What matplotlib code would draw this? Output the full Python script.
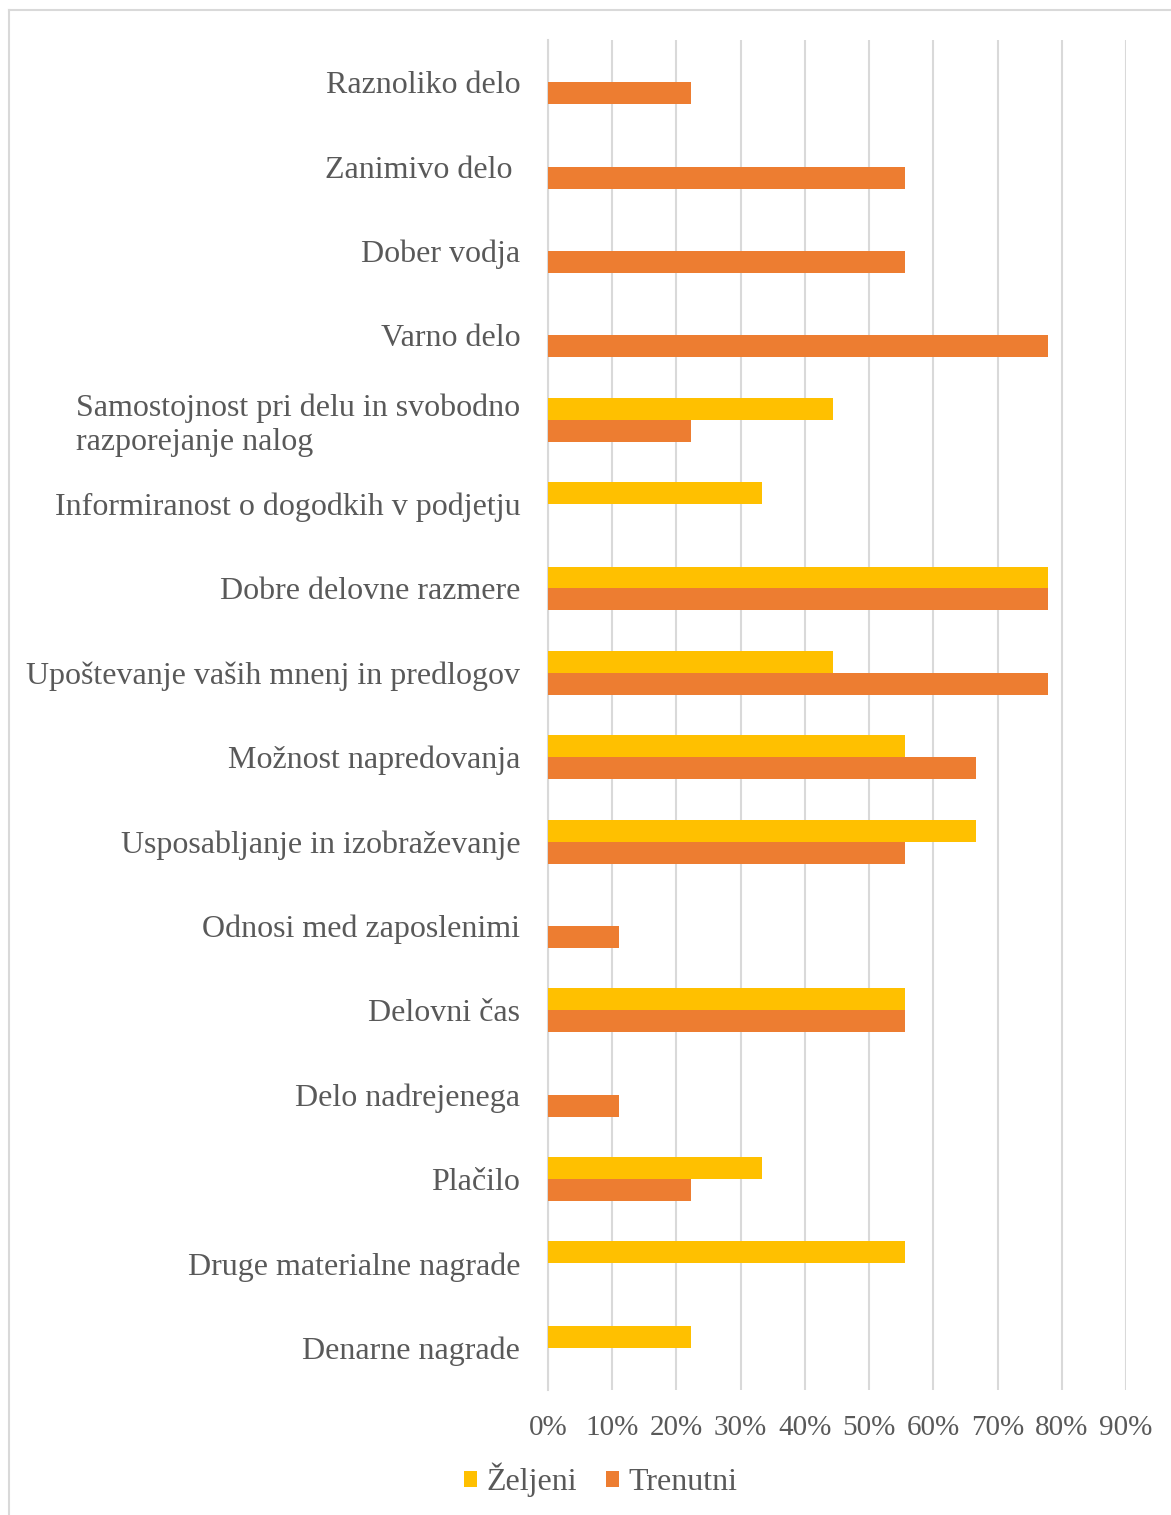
import matplotlib
matplotlib.use("Agg")
import matplotlib.pyplot as plt
from matplotlib.lines import Line2D
from matplotlib.ticker import FuncFormatter, MultipleLocator
import numpy as np

categories = [
    "Raznoliko delo",
    "Zanimivo delo ",
    "Dober vodja",
    "Varno delo",
    "Samostojnost pri delu in svobodno\nrazporejanje nalog",
    "Informiranost o dogodkih v podjetju",
    "Dobre delovne razmere",
    "Upoštevanje vaših mnenj in predlogov",
    "Možnost napredovanja",
    "Usposabljanje in izobraževanje",
    "Odnosi med zaposlenimi",
    "Delovni čas",
    "Delo nadrejenega",
    "Plačilo",
    "Druge materialne nagrade",
    "Denarne nagrade",
]
zeljeni = [0, 0, 0, 0, 44.4, 33.3, 77.8, 44.4, 55.6, 66.7, 0, 55.6, 0, 33.3, 55.6, 22.2]
trenutni = [22.2, 55.6, 55.6, 77.8, 22.2, 0, 77.8, 77.8, 66.7, 55.6, 11.1, 55.6, 11.1, 22.2, 0, 0]
series_names = ["Željeni", "Trenutni"]
colors = ["#FFC000", "#ED7D31"]
text_color = "#595959"
grid_color = "#D9D9D9"

plt.rcParams["font.family"] = ["Liberation Serif", "DejaVu Serif"]

W, H = 1171, 1515
fig = plt.figure(figsize=(W / 100, H / 100), dpi=100)
ax = fig.add_axes([548 / W, 1 - 1390 / H, (1126 - 548) / W, (1390 - 40) / H])

y = np.arange(len(categories))
bh = 0.26
ax.barh(y - bh / 2, zeljeni, height=bh, color=colors[0], label=series_names[0], zorder=3)
ax.barh(y + bh / 2, trenutni, height=bh, color=colors[1], label=series_names[1], zorder=3)

ax.set_xlim(0, 90)
ax.set_ylim(len(categories) - 0.5, -0.5)
ax.xaxis.set_major_locator(MultipleLocator(10))
ax.xaxis.set_major_formatter(FuncFormatter(lambda v, p: f"{int(round(v))}%"))
ax.grid(axis="x", color=grid_color, linewidth=1.5, zorder=0)
ax.set_axisbelow(True)
for s in ["top", "right", "bottom"]:
    ax.spines[s].set_visible(False)
ax.spines["left"].set_color(grid_color)
ax.spines["left"].set_linewidth(1.5)

ax.set_yticks(y)
ax.set_yticklabels(categories, fontsize=23, color=text_color, multialignment="left", linespacing=1.2)
ax.tick_params(axis="y", length=0, pad=20)
ax.tick_params(axis="x", length=0, pad=18, labelsize=21, labelcolor=text_color)

leg = fig.legend(loc="center", bbox_to_anchor=(601 / W, 1 - 1480 / H), ncol=2, frameon=False,
                 fontsize=23, handlelength=0.4, handleheight=0.4, handletextpad=0.3,
                 columnspacing=0.9, labelcolor=text_color)

# outer chart frame (only top and left edges visible)
fig.add_artist(Line2D([9 / W, 9 / W], [0, 1 - 10 / H], transform=fig.transFigure, color="#D9D9D9", lw=1.5))
fig.add_artist(Line2D([9 / W, 1], [1 - 10 / H, 1 - 10 / H], transform=fig.transFigure, color="#D9D9D9", lw=1.5))

fig.savefig("out.png", dpi=100, facecolor="white")
